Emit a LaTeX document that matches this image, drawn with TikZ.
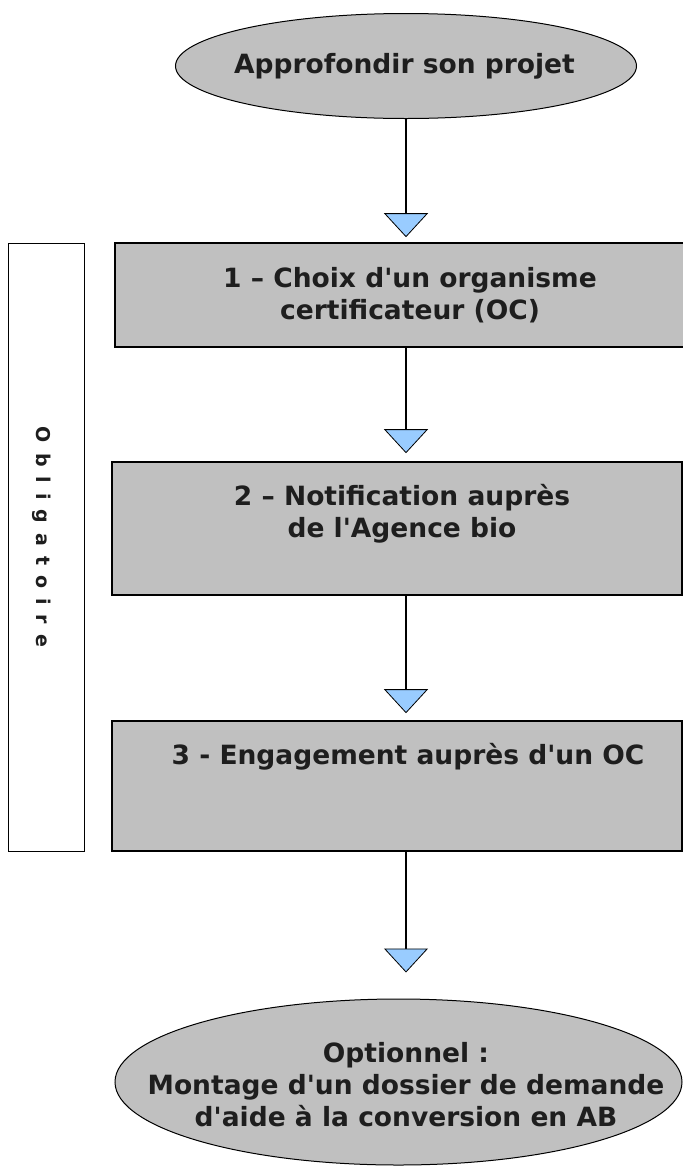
\documentclass[tikz,border=0pt]{standalone}
\usepackage{fontspec}
\setmainfont{DejaVu Sans}
\usetikzlibrary{positioning,arrows.meta,shapes.geometric}

\definecolor{boxgray}{HTML}{C0C0C0}
\definecolor{tipblue}{HTML}{99CCFF}
\definecolor{inkgray}{HTML}{1E1E1E}
\newcommand{\lsp}{\hspace{10pt}}
\newcommand{\sq}{\textquotesingle}

\tikzset{
  stage/.style={draw=black, line width=1.6pt, fill=boxgray, inner sep=0pt},
  bubble/.style={ellipse, draw=black, line width=1pt, fill=boxgray, inner sep=0pt},
  caption/.style={font=\bfseries\fontsize{26.5}{32}\selectfont, text=inkgray, align=center, inner sep=0pt},
  flow/.style={line width=1.5pt, -{Triangle[width=44pt,length=24pt,fill=tipblue,line width=0.8pt]}}
}

\begin{document}
\begin{tikzpicture}[x=1pt,y=-1pt]
  \useasboundingbox (0,0) rectangle (683,1171);

  \node[bubble, minimum width=461pt, minimum height=105pt] (start) at (406,66) {};
  \node[caption] (t0) at (404.5,66) {Approfondir son projet};

  \node[stage, minimum width=569pt, minimum height=104pt] (s1) at (399.5,295) {};
  \node[caption, anchor=north] (t1) at (410,267) {1 – Choix d\sq un organisme\\certificateur (OC)};

  \node[stage, minimum width=570pt, minimum height=133pt] (s2) at (397,528.5) {};
  \node[caption, anchor=north] (t2) at (402,484) {2 – Notification auprès\\de l\sq Agence bio};

  \node[stage, minimum width=570pt, minimum height=130pt] (s3) at (397,786) {};
  \node[caption, anchor=north] (t3) at (408,743) {3 - Engagement auprès d\sq un OC};

  \node[bubble, minimum width=567pt, minimum height=166pt] (finish) at (398.5,1082) {};
  \node[caption] (t4) at (406,1085)
    {Optionnel :\\Montage d\sq un dossier de demande\\d\sq aide à la conversion en AB};

  % bandeau vertical
  \node[draw=black, line width=1pt, minimum width=76pt, minimum height=608pt] (oblig) at (46,547) {};
  \node[rotate=-90, text=inkgray, font=\bfseries\fontsize{19}{23}\selectfont, inner sep=0pt] (obligtext) at (42,537)
    {O\lsp b\lsp l\lsp i\lsp g\lsp a\lsp t\lsp o\lsp i\lsp r\lsp e};

  \draw[flow, shorten >=5pt] (start.south) -- (start.south |- s1.north);
  \draw[flow, shorten >=8pt] (start.south |- s1.south) -- (start.south |- s2.north);
  \draw[flow, shorten >=7pt] (start.south |- s2.south) -- (start.south |- s3.north);
  \draw[flow, shorten >=26pt] (start.south |- s3.south) -- (start.south |- finish.north);
\end{tikzpicture}
\end{document}
